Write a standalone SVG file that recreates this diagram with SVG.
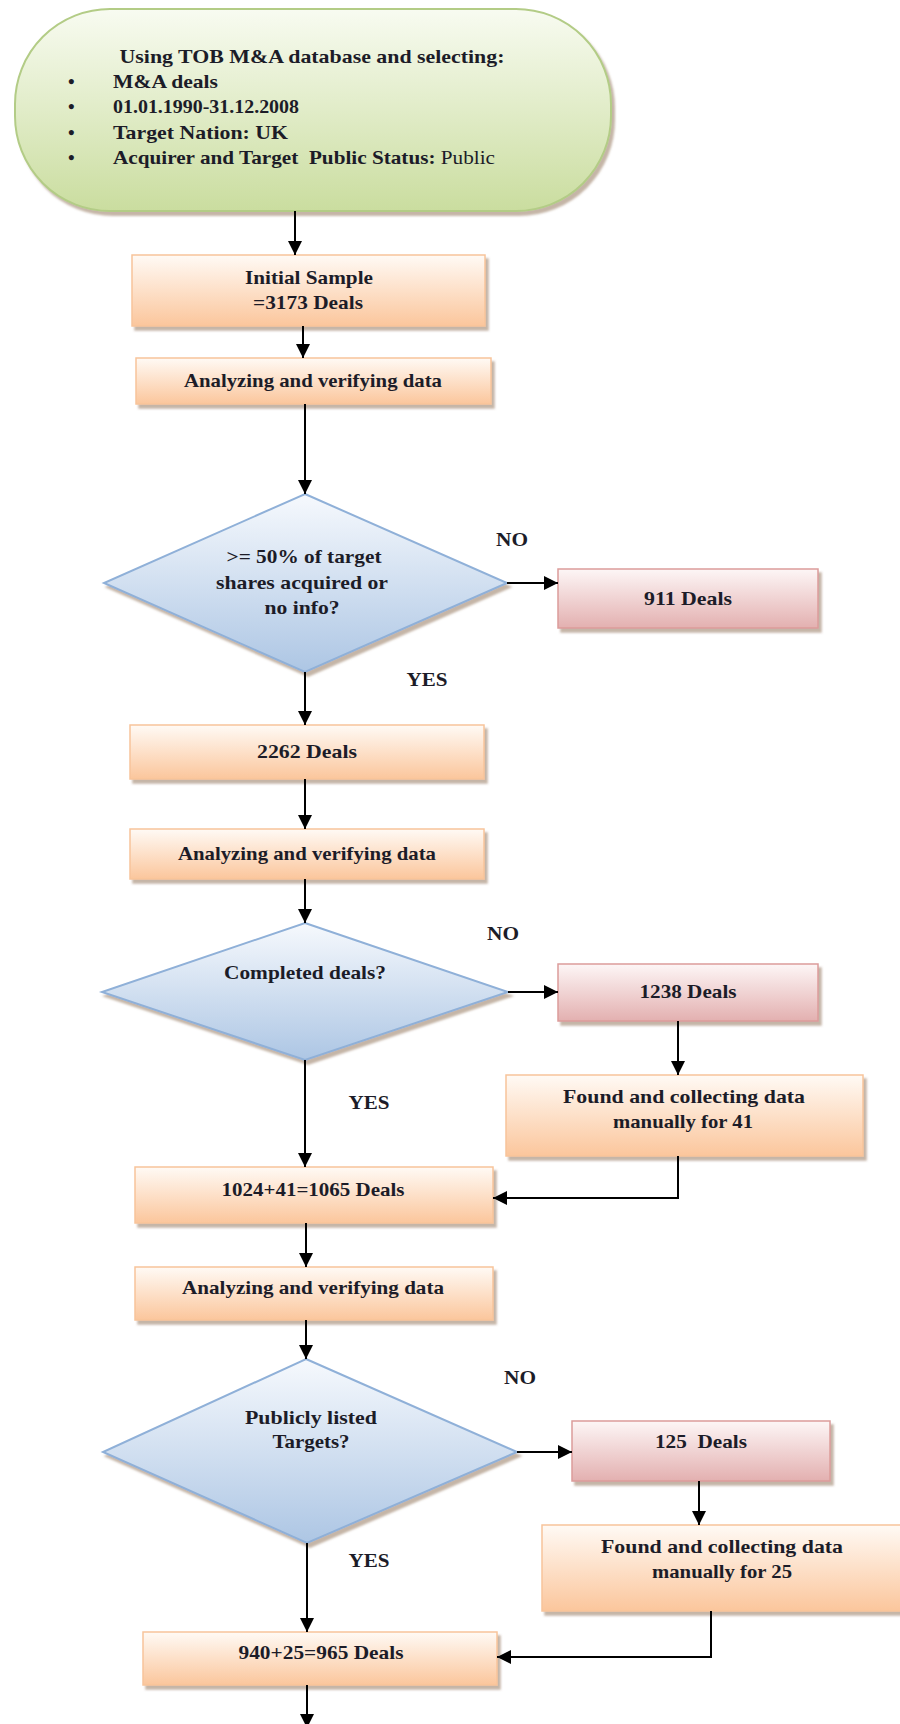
<svg xmlns="http://www.w3.org/2000/svg" width="900" height="1724" viewBox="0 0 900 1724">
<defs>
<linearGradient id="gG" x1="0" y1="0" x2="0" y2="1"><stop offset="0" stop-color="#f8fbf1"/><stop offset="1" stop-color="#cadd9f"/></linearGradient>
<linearGradient id="gO" x1="0" y1="0" x2="0" y2="1"><stop offset="0" stop-color="#fffaf5"/><stop offset="1" stop-color="#fbc69c"/></linearGradient>
<linearGradient id="gP" x1="0" y1="0" x2="0" y2="1"><stop offset="0" stop-color="#fdf6f6"/><stop offset="1" stop-color="#e3b0b0"/></linearGradient>
<linearGradient id="gD" x1="0" y1="0" x2="0" y2="1"><stop offset="0" stop-color="#f6f9fd"/><stop offset="1" stop-color="#adc6e4"/></linearGradient>
<filter id="sh" x="-10%" y="-10%" width="130%" height="140%"><feDropShadow dx="3" dy="4" stdDeviation="1" flood-color="#8a6a50" flood-opacity="0.5"/></filter>
<marker id="ah" markerWidth="14" markerHeight="14" refX="14" refY="7" orient="auto" markerUnits="userSpaceOnUse"><path d="M0,0 L14,7 L0,14 z" fill="#000"/></marker>
<style>
text{font-family:"Liberation Serif","Times New Roman",serif;font-weight:bold;font-size:19px;fill:#1c1c28}
.c{text-anchor:middle}
.o{fill:url(#gO);stroke:#f8c49a;stroke-width:1.5;filter:url(#sh)}
.p{fill:url(#gP);stroke:#dc9c9a;stroke-width:1.5;filter:url(#sh)}
.d{fill:url(#gD);stroke:#8fb0d8;stroke-width:2;filter:url(#sh)}
.g{fill:url(#gG);stroke:#b3cc86;stroke-width:2;filter:url(#sh)}
.ln{stroke:#000;stroke-width:2;fill:none}
.a{marker-end:url(#ah)}
</style>
</defs>
<g id="start">
<rect class="g" x="15" y="9" width="596" height="202" rx="95" ry="95"/>
<text class="c" x="312" y="63" textLength="385" lengthAdjust="spacingAndGlyphs">Using TOB M&amp;A database and selecting:</text>
<text x="68" y="88">•</text><text x="113" y="88" textLength="105" lengthAdjust="spacingAndGlyphs">M&amp;A deals</text>
<text x="68" y="113">•</text><text x="113" y="113" textLength="186" lengthAdjust="spacingAndGlyphs">01.01.1990-31.12.2008</text>
<text x="68" y="139">•</text><text x="113" y="139" textLength="175" lengthAdjust="spacingAndGlyphs">Target Nation: UK</text>
<text x="68" y="164">•</text><text x="113" y="164" style="white-space:pre" textLength="382" lengthAdjust="spacingAndGlyphs">Acquirer and Target  Public Status: <tspan font-weight="normal">Public</tspan></text>
</g>
<g id="initial">
<rect class="o" x="132" y="255" width="353" height="71"/>
<text class="c" x="309" y="284" textLength="128" lengthAdjust="spacingAndGlyphs">Initial Sample</text>
<text class="c" x="308" y="309" textLength="110" lengthAdjust="spacingAndGlyphs">=3173 Deals</text>
</g>
<g id="analyze1">
<rect class="o" x="136" y="358" width="355" height="46"/>
<text class="c" x="313" y="387" textLength="258" lengthAdjust="spacingAndGlyphs">Analyzing and verifying data</text>
</g>
<g id="dec1">
<polygon class="d" points="305,494 507,583 305,672 104,583"/>
<text class="c" x="304" y="563" textLength="155" lengthAdjust="spacingAndGlyphs">&gt;= 50% of target</text>
<text class="c" x="302" y="589" textLength="172" lengthAdjust="spacingAndGlyphs">shares acquired or</text>
<text class="c" x="302" y="614" textLength="75" lengthAdjust="spacingAndGlyphs">no info?</text>
</g>
<g id="d911">
<rect class="p" x="558" y="569" width="260" height="59"/>
<text class="c" x="688" y="605" textLength="88" lengthAdjust="spacingAndGlyphs">911 Deals</text>
</g>
<g id="d2262">
<rect class="o" x="130" y="725" width="354" height="54"/>
<text class="c" x="307" y="758" textLength="100" lengthAdjust="spacingAndGlyphs">2262 Deals</text>
</g>
<g id="analyze2">
<rect class="o" x="130" y="829" width="354" height="50"/>
<text class="c" x="307" y="860" textLength="258" lengthAdjust="spacingAndGlyphs">Analyzing and verifying data</text>
</g>
<g id="dec2">
<polygon class="d" points="305,923 508,992 305,1060 102,992"/>
<text class="c" x="305" y="979" textLength="162" lengthAdjust="spacingAndGlyphs">Completed deals?</text>
</g>
<g id="d1238">
<rect class="p" x="558" y="964" width="260" height="57"/>
<text class="c" x="688" y="998" textLength="97" lengthAdjust="spacingAndGlyphs">1238 Deals</text>
</g>
<g id="found41">
<rect class="o" x="506" y="1075" width="357" height="81"/>
<text class="c" x="684" y="1103" textLength="242" lengthAdjust="spacingAndGlyphs">Found and collecting data</text>
<text class="c" x="683" y="1128" textLength="140" lengthAdjust="spacingAndGlyphs">manually for 41</text>
</g>
<g id="d1065">
<rect class="o" x="135" y="1167" width="358" height="56"/>
<text class="c" x="313" y="1196" textLength="183" lengthAdjust="spacingAndGlyphs">1024+41=1065 Deals</text>
</g>
<g id="analyze3">
<rect class="o" x="135" y="1267" width="358" height="53"/>
<text class="c" x="313" y="1294" textLength="262" lengthAdjust="spacingAndGlyphs">Analyzing and verifying data</text>
</g>
<g id="dec3">
<polygon class="d" points="306,1359 517,1452 307,1543 103,1452"/>
<text class="c" x="311" y="1424" textLength="132" lengthAdjust="spacingAndGlyphs">Publicly listed</text>
<text class="c" x="311" y="1448" textLength="77" lengthAdjust="spacingAndGlyphs">Targets?</text>
</g>
<g id="d125">
<rect class="p" x="572" y="1421" width="258" height="60"/>
<text class="c" x="701" y="1448" style="white-space:pre" textLength="92" lengthAdjust="spacingAndGlyphs">125  Deals</text>
</g>
<g id="found25">
<rect class="o" x="542" y="1525" width="364" height="86"/>
<text class="c" x="722" y="1553" textLength="242" lengthAdjust="spacingAndGlyphs">Found and collecting data</text>
<text class="c" x="722" y="1578" textLength="140" lengthAdjust="spacingAndGlyphs">manually for 25</text>
</g>
<g id="d965">
<rect class="o" x="143" y="1632" width="354" height="53"/>
<text class="c" x="321" y="1659" textLength="165" lengthAdjust="spacingAndGlyphs">940+25=965 Deals</text>
</g>
<g id="labels">
<text class="c" x="512" y="546" textLength="32" lengthAdjust="spacingAndGlyphs">NO</text>
<text class="c" x="427" y="686" textLength="41" lengthAdjust="spacingAndGlyphs">YES</text>
<text class="c" x="503" y="940" textLength="32" lengthAdjust="spacingAndGlyphs">NO</text>
<text class="c" x="369" y="1109" textLength="41" lengthAdjust="spacingAndGlyphs">YES</text>
<text class="c" x="520" y="1384" textLength="32" lengthAdjust="spacingAndGlyphs">NO</text>
<text class="c" x="369" y="1567" textLength="41" lengthAdjust="spacingAndGlyphs">YES</text>
</g>
<g id="connectors">
<line class="ln a" x1="295" y1="211" x2="295" y2="255"/>
<line class="ln a" x1="303" y1="326" x2="303" y2="358"/>
<line class="ln a" x1="305" y1="404" x2="305" y2="494"/>
<line class="ln a" x1="507" y1="583" x2="558" y2="583"/>
<line class="ln a" x1="305" y1="672" x2="305" y2="725"/>
<line class="ln a" x1="305" y1="779" x2="305" y2="829"/>
<line class="ln a" x1="305" y1="879" x2="305" y2="923"/>
<line class="ln a" x1="508" y1="992" x2="558" y2="992"/>
<line class="ln a" x1="678" y1="1021" x2="678" y2="1075"/>
<line class="ln a" x1="305" y1="1060" x2="305" y2="1167"/>
<polyline class="ln a" points="678,1156 678,1198 493,1198"/>
<line class="ln a" x1="306" y1="1223" x2="306" y2="1267"/>
<line class="ln a" x1="306" y1="1320" x2="306" y2="1359"/>
<line class="ln a" x1="517" y1="1452" x2="572" y2="1452"/>
<line class="ln a" x1="699" y1="1481" x2="699" y2="1525"/>
<line class="ln a" x1="307" y1="1543" x2="307" y2="1632"/>
<polyline class="ln a" points="711,1611 711,1657 497,1657"/>
<line class="ln a" x1="307" y1="1685" x2="307" y2="1728"/>
</g>
</svg>
